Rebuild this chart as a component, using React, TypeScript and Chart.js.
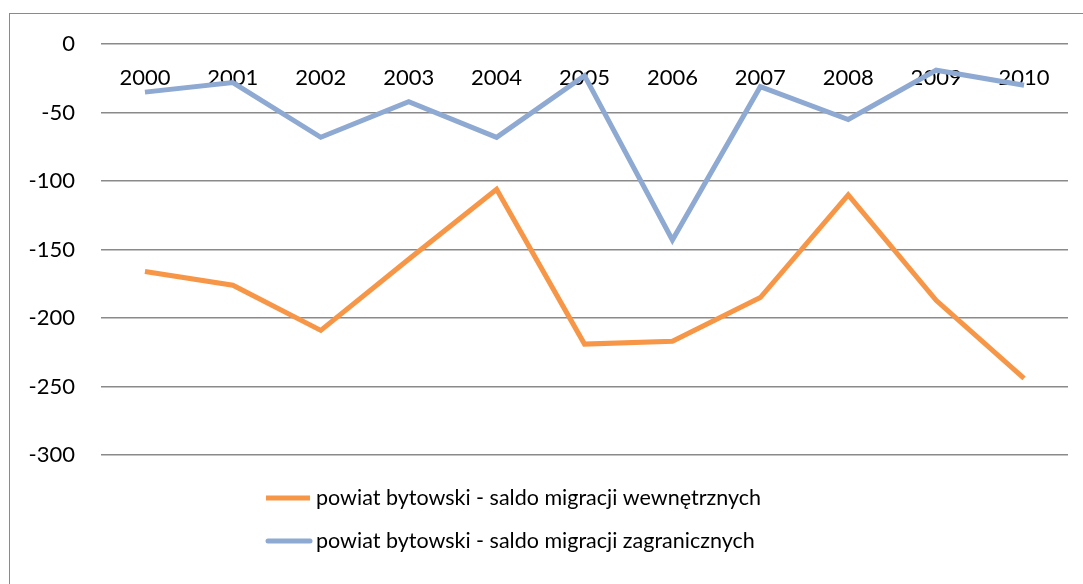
import React, { useEffect, useRef } from "react";
import { Chart, registerables } from "chart.js";

Chart.register(...registerables);

const years = ["2000", "2001", "2002", "2003", "2004", "2005", "2006", "2007", "2008", "2009", "2010"];
const internalSaldo = [-166, -176, -209, -157, -106, -219, -217, -185, -110, -187, -244];
const foreignSaldo = [-35, -28, -68, -42, -68, -23, -143, -31, -55, -19, -30];
const seriesNames = [
  "powiat bytowski - saldo migracji wewnętrznych",
  "powiat bytowski - saldo migracji zagranicznych",
];
const seriesColors = ["#F79646", "#8EA9D2"];
const yMin = -300;
const yMax = 0;
const yStep = 50;

const FONT = "Lato, 'Open Sans', sans-serif";
const FONT_SIZE = 22;
const LEGEND_FONT_SIZE = 21.5;

const legendPlugin = {
  id: "stackedLegend",
  afterDraw(chart: any) {
    const { ctx, chartArea } = chart;
    const startX = chartArea.left + 165;
    const rows = [chartArea.bottom + 43, chartArea.bottom + 86];
    ctx.save();
    chart.data.datasets.forEach((ds: any, i: number) => {
      const y = rows[i];
      ctx.beginPath();
      ctx.strokeStyle = ds.borderColor;
      ctx.lineWidth = 5;
      ctx.lineCap = i === 1 ? "round" : "butt";
      ctx.moveTo(startX + (i === 1 ? 2 : 0), y);
      ctx.lineTo(startX + 44, y);
      ctx.stroke();
      ctx.fillStyle = "#000";
      ctx.font = `${LEGEND_FONT_SIZE}px ${FONT}`;
      ctx.textBaseline = "middle";
      ctx.textAlign = "left";
      ctx.fillText(ds.label, startX + 50, y);
    });
    ctx.restore();
  },
};

export default function App() {
  const ref = useRef<HTMLCanvasElement | null>(null);

  useEffect(() => {
    if (!ref.current) return;
    const chart = new Chart(ref.current, {
      type: "line",
      data: {
        labels: years,
        datasets: [
          {
            label: seriesNames[0],
            data: internalSaldo,
            borderColor: seriesColors[0],
            backgroundColor: seriesColors[0],
            borderWidth: 5,
            pointRadius: 0,
            tension: 0,
            borderJoinStyle: "miter",
            borderCapStyle: "butt",
          },
          {
            label: seriesNames[1],
            data: foreignSaldo,
            borderColor: seriesColors[1],
            backgroundColor: seriesColors[1],
            borderWidth: 5,
            pointRadius: 0,
            tension: 0,
            borderJoinStyle: "miter",
            borderCapStyle: "butt",
          },
        ],
      },
      plugins: [legendPlugin],
      options: {
        animation: false,
        responsive: false,
        maintainAspectRatio: false,
        layout: { padding: { top: 20, bottom: 129, left: 0, right: 15 } },
        plugins: {
          legend: { display: false },
          tooltip: { enabled: false },
        },
        scales: {
          x: {
            position: { y: 0 } as any,
            offset: true,
            grid: { display: false, drawTicks: false },
            border: { display: false },
            ticks: {
              color: "#000",
              font: { family: FONT, size: FONT_SIZE },
              padding: 21,
              maxRotation: 0,
              autoSkip: false,
            },
          },
          y: {
            min: yMin,
            max: yMax,
            afterFit(scale: any) {
              scale.width = 91;
            },
            ticks: {
              stepSize: yStep,
              color: "#000",
              font: { family: FONT, size: FONT_SIZE },
              padding: 26,
            },
            grid: { color: "#8a8a8a", lineWidth: 1.5, drawTicks: false },
            border: { display: false },
          },
        },
      },
    });
    return () => chart.destroy();
  }, []);

  return (
    <div style={{ position: "fixed", inset: 0, overflow: "hidden", background: "#fff" }}>
      <div
        style={{
          position: "absolute",
          left: 9,
          top: 13,
          width: 1200,
          height: 700,
          border: "1px solid #8a8a8a",
          boxSizing: "border-box",
        }}
      />
      <canvas
        ref={ref}
        width={1073}
        height={579}
        style={{ position: "absolute", left: 10, top: 5, width: 1073, height: 579 }}
      />
    </div>
  );
}
